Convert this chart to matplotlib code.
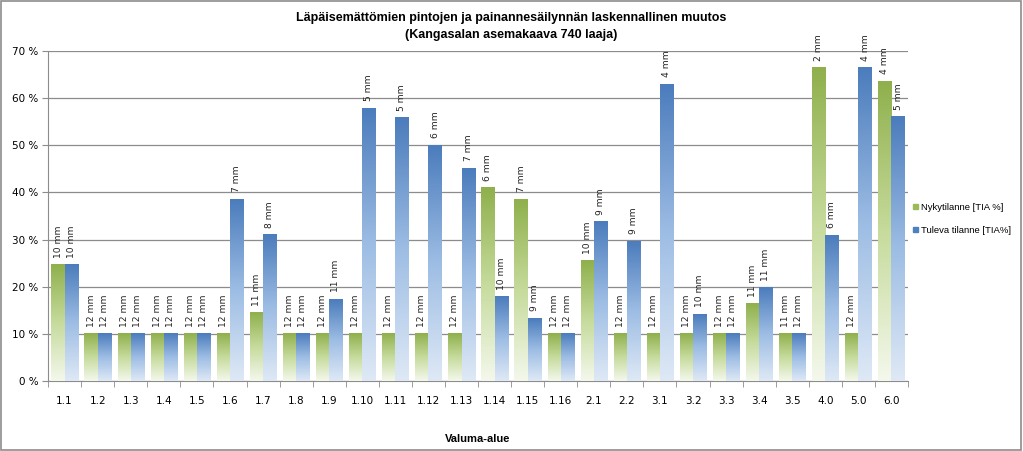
import matplotlib
matplotlib.use("Agg")
import matplotlib.pyplot as plt
import numpy as np
from matplotlib.colors import LinearSegmentedColormap
from matplotlib.patches import Rectangle

categories = ["1.1", "1.2", "1.3", "1.4", "1.5", "1.6", "1.7", "1.8", "1.9", "1.10",
              "1.11", "1.12", "1.13", "1.14", "1.15", "1.16", "2.1", "2.2", "3.1", "3.2",
              "3.3", "3.4", "3.5", "4.0", "5.0", "6.0"]
nyky = [24.7, 10, 10, 10, 10, 10, 14.5, 10, 10, 10,
        10, 10, 10, 41.0, 38.5, 10, 25.5, 10, 10, 10,
        10, 16.4, 10, 66.4, 10, 63.6]
tuleva = [24.7, 10, 10, 10, 10, 38.5, 31.0, 10, 17.3, 57.8,
          55.8, 50.0, 45.1, 17.9, 13.3, 10, 33.8, 29.6, 62.9, 14.2,
          10, 19.8, 10, 30.9, 66.4, 56.0]
nyky_lbl = ["10 mm", "12 mm", "12 mm", "12 mm", "12 mm", "12 mm", "11 mm", "12 mm", "12 mm", "12 mm",
            "12 mm", "12 mm", "12 mm", "6 mm", "7 mm", "12 mm", "10 mm", "12 mm", "12 mm", "12 mm",
            "12 mm", "11 mm", "11 mm", "2 mm", "12 mm", "4 mm"]
tuleva_lbl = ["10 mm", "12 mm", "12 mm", "12 mm", "12 mm", "7 mm", "8 mm", "12 mm", "11 mm", "5 mm",
              "5 mm", "6 mm", "7 mm", "10 mm", "9 mm", "12 mm", "9 mm", "9 mm", "4 mm", "10 mm",
              "12 mm", "11 mm", "12 mm", "6 mm", "4 mm", "5 mm"]
series_names = ["Nykytilanne [TIA %]", "Tuleva tilanne [TIA%]"]
yticks = [0, 10, 20, 30, 40, 50, 60, 70]

title_font = ["Liberation Sans Narrow", "Liberation Sans", "DejaVu Sans"]

fig = plt.figure(figsize=(10.23, 4.51), dpi=100)
ax = fig.add_axes([0.047, 0.155, 0.8406, 0.732])

x = np.arange(len(categories))
w = 0.4
green_cmap = LinearSegmentedColormap.from_list("g", ["#f4f8ec", "#c6db9c", "#8fb04c"])
blue_cmap = LinearSegmentedColormap.from_list("b", ["#dfe9f6", "#9dbde4", "#4b7cbc"])
grad = np.linspace(0, 1, 256).reshape(-1, 1)

bars_g = ax.bar(x - w / 2, nyky, width=w, color="none", edgecolor="none", zorder=3)
bars_b = ax.bar(x + w / 2, tuleva, width=w, color="none", edgecolor="none", zorder=3)

for bars, cmap in ((bars_g, green_cmap), (bars_b, blue_cmap)):
    for b in bars:
        x0, y0 = b.get_x(), b.get_y()
        bw, bh = b.get_width(), b.get_height()
        ax.imshow(grad, cmap=cmap, origin="lower", aspect="auto",
                  extent=(x0, x0 + bw, y0, y0 + bh), zorder=3, interpolation="bilinear")

for bars, labels in ((bars_g, nyky_lbl), (bars_b, tuleva_lbl)):
    for b, lab in zip(bars, labels):
        ax.text(b.get_x() + b.get_width() / 2, b.get_height() + 1.5, lab,
                rotation=90, ha="center", va="bottom", fontsize=6.6, color="#222222",
                family="DejaVu Sans", zorder=4, clip_on=False)

ax.set_xlim(-0.5, len(categories) - 0.5)
ax.set_ylim(0, 70)
ax.set_yticks(yticks)
ax.set_yticklabels([f"{t} %" for t in yticks], fontsize=7.5, family="DejaVu Sans")
ax.yaxis.grid(True, color="#8c8c8c", linewidth=0.9, zorder=0)
ax.set_axisbelow(True)

ax.set_xticks(x)
ax.set_xticklabels(categories, fontsize=7.5, family="DejaVu Sans")
ax.tick_params(axis="x", length=0, pad=11)
ax.set_xticks(np.arange(-0.5, len(categories), 1.0), minor=True)
ax.tick_params(axis="x", which="minor", length=4, color="#8c8c8c")
ax.tick_params(axis="y", length=4, color="#8c8c8c", pad=3)

for s in ("top", "right"):
    ax.spines[s].set_visible(False)
for s in ("left", "bottom"):
    ax.spines[s].set_color("#8c8c8c")

ax.set_xlabel("Valuma-alue", fontsize=8, fontweight="bold", family=title_font, labelpad=20)
fig.text(0.5, 0.96, "Läpäisemättömien pintojen ja painannesäilynnän laskennallinen muutos",
         ha="center", va="center", fontsize=9, fontweight="bold", family=title_font)
fig.text(0.5, 0.922, "(Kangasalan asemakaava 740 laaja)",
         ha="center", va="center", fontsize=9, fontweight="bold", family=title_font)

handles = [Rectangle((0, 0), 1, 1, color="#9bbb59"), Rectangle((0, 0), 1, 1, color="#4f81bd")]
leg = fig.legend(handles, series_names, loc="center left", bbox_to_anchor=(0.884, 0.515),
                 frameon=False, prop={"family": title_font, "size": 6.8},
                 handlelength=0.5, handleheight=0.5, handletextpad=0.4, labelspacing=1.5)

border = Rectangle((0.001, 0.002), 0.997, 0.995, transform=fig.transFigure, fill=False,
                   edgecolor="#8c8c8c", linewidth=1.2)
fig.patches.append(border)

fig.savefig("out.png", dpi=100)
